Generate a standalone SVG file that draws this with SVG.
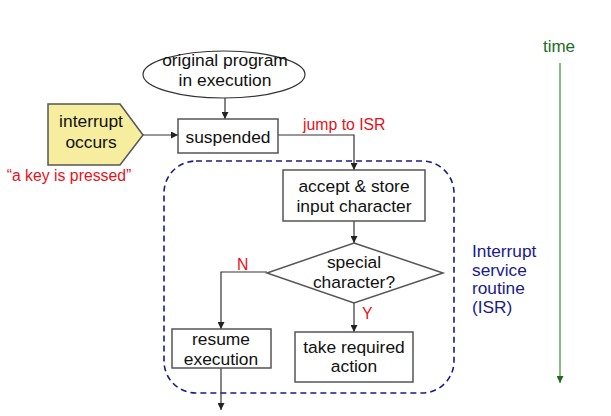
<svg xmlns="http://www.w3.org/2000/svg" width="611" height="416" viewBox="0 0 611 416">
<style>
text{font-family:"Liberation Sans",Arial,sans-serif;}
.t{font-size:17.4px;fill:#111;text-anchor:middle;}
.box{fill:#fff;stroke:#555;stroke-width:1.5;}
.red{fill:#e8101a;font-size:15.8px;}
.blue{fill:#1a1a8c;font-size:17.3px;}
.green{fill:#1e6b1e;font-size:17px;}
.c{fill:none;stroke:#333;stroke-width:1.2;}
</style>
<defs>
<marker id="ah" viewBox="0 0 10 10" refX="10" refY="5" markerWidth="7" markerHeight="7" orient="auto" markerUnits="userSpaceOnUse"><path d="M0,0 L10,5 L0,10 z" fill="#222"/></marker>
<marker id="ahg" viewBox="0 0 10 10" refX="10" refY="5" markerWidth="7" markerHeight="7" orient="auto" markerUnits="userSpaceOnUse"><path d="M0,0 L10,5 L0,10 z" fill="#1e6b1e"/></marker>
</defs>
<rect width="611" height="416" fill="#fff"/>
<g id="isr-region">
<rect x="164" y="161" width="290" height="232" rx="32" ry="32" fill="none" stroke="#1a1a8c" stroke-width="1.6" stroke-dasharray="6,4"/>
<text class="blue" x="472" y="257">Interrupt</text>
<text class="blue" x="472" y="275.5">service</text>
<text class="blue" x="472" y="294">routine</text>
<text class="blue" x="472" y="312.5">(ISR)</text>
</g>
<g id="connectors">
<line class="c" x1="225" y1="98" x2="225" y2="119" marker-end="url(#ah)"/>
<line class="c" x1="143" y1="135" x2="178" y2="135" marker-end="url(#ah)"/>
<polyline class="c" points="278,135 354,135 354,170" marker-end="url(#ah)"/>
<line class="c" x1="354" y1="221" x2="354" y2="243" marker-end="url(#ah)"/>
<polyline class="c" points="267,272 221,272 221,329" marker-end="url(#ah)"/>
<line class="c" x1="354" y1="303" x2="354" y2="332" marker-end="url(#ah)"/>
<line class="c" x1="221" y1="368" x2="221" y2="410" marker-end="url(#ah)"/>
<text class="red" x="303" y="130">jump to ISR</text>
<text class="red" x="237" y="270">N</text>
<text class="red" x="362" y="319">Y</text>
</g>
<g id="original">
<ellipse cx="224" cy="74.5" rx="81" ry="23.5" fill="#fff" stroke="#333" stroke-width="1.2"/>
<text class="t" x="225" y="65.5">original program</text>
<text class="t" x="225" y="86">in execution</text>
</g>
<g id="interrupt">
<polygon points="48,104 120,104 143,135 120,165 48,165" fill="#f6ee9e" stroke="#555" stroke-width="1.5"/>
<text class="t" x="91" y="127">interrupt</text>
<text class="t" x="91" y="148">occurs</text>
<text class="red" x="69" y="181" text-anchor="middle">“a key is pressed”</text>
</g>
<g id="suspended">
<rect class="box" x="178" y="119" width="100" height="34"/>
<text class="t" x="228" y="142.5">suspended</text>
</g>
<g id="accept">
<rect class="box" x="283" y="170" width="142" height="51"/>
<text class="t" x="354" y="192">accept &amp; store</text>
<text class="t" x="354" y="212">input character</text>
</g>
<g id="special">
<polygon points="354,243 443,273 354,303 267,273" fill="#fff" stroke="#555" stroke-width="1.5"/>
<text class="t" x="354" y="268">special</text>
<text class="t" x="354" y="288">character?</text>
</g>
<g id="resume">
<rect class="box" x="172" y="329" width="99" height="39"/>
<text class="t" x="221" y="345">resume</text>
<text class="t" x="221" y="365">execution</text>
</g>
<g id="take">
<rect class="box" x="295" y="332" width="118" height="50"/>
<text class="t" x="354" y="353">take required</text>
<text class="t" x="354" y="372">action</text>
</g>
<g id="time">
<text class="green" x="559" y="52" text-anchor="middle">time</text>
<line x1="560" y1="63" x2="560" y2="383" stroke="#3a8a3a" stroke-width="1.2" marker-end="url(#ahg)"/>
</g>
</svg>
